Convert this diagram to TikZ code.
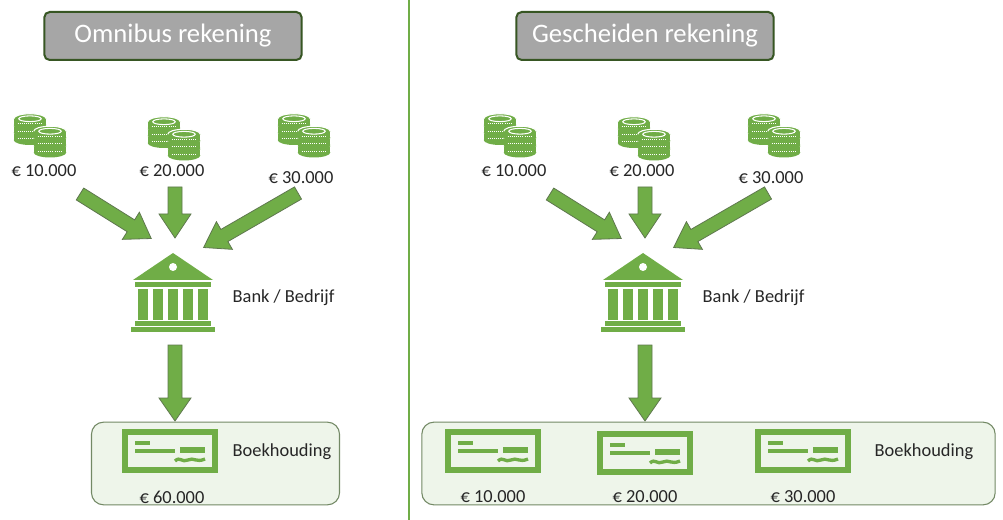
\documentclass[tikz,border=0pt]{standalone}
\usepackage{fontspec}
\setmainfont{Carlito}
\usetikzlibrary{arrows.meta}
\definecolor{gr}{HTML}{70AD47}
\definecolor{dg}{HTML}{375623}
\definecolor{lb}{HTML}{EEF5EA}
\tikzset{
 title/.style={draw=dg,line width=1.5pt,fill=gray!70,rounded corners=4pt,text=white,font=\fontsize{20}{22}\selectfont,minimum width=193pt,minimum height=36pt},
 lab/.style={font=\fontsize{13.8}{15}\selectfont,text=black!85},
 barrow/.style={draw=dg!80,line width=0.6pt,fill=gr},
 acct/.style={draw=dg!70,line width=0.8pt,fill=lb,rounded corners=9pt},
 coins/.pic={
  \begin{scope}[scale=1.25]
  \foreach \sx/\sy in {-8/-6,8/4}{
   \foreach \k in {2,1,0}{
    \fill[gr] (\sx-13,\sy+\k*6-3) rectangle (\sx+13,\sy+\k*6+2);
    \fill[gr] (\sx,\sy+\k*6+2) ellipse (13 and 4);
    \fill[gr] (\sx,\sy+\k*6-3) ellipse (13 and 4);
    \draw[white,line width=0.6pt,densely dotted] (\sx-10,\sy+\k*6+1) -- (\sx+10,\sy+\k*6+1);
    \draw[white,line width=0.8pt] (\sx-13,\sy+\k*6-3) arc (180:360:13 and 4);
   }
   \draw[white,line width=0.8pt] (\sx,\sy-3) ellipse (9 and 2.3);
  }
  \end{scope}
 },
 bank/.pic={
  \fill[gr] (-40,-12) -- (0,-39) -- (40,-12) -- cycle;
  \fill[white] (0,-25) circle (4);
  \fill[gr] (-38,-10) rectangle (38,-5);
  \foreach \c in {-30,-15,0,15,30}{\fill[gr] (\c-5,-3) rectangle (\c+5,28);}
  \fill[gr] (-38,29) rectangle (38,34);
  \fill[gr] (-42,35) rectangle (42,40);
 },
 check/.pic={
  \draw[gr,line width=4.5pt] (-45,-19) rectangle (45,19);
  \fill[gr] (-35,-10) rectangle (-20,-6);
  \fill[gr] (-35,-2) rectangle (5,2);
  \fill[gr] (10,-4) rectangle (35,2);
  \draw[gr,line width=2.5pt] (5,10) .. controls (10,5) and (12,12) .. (18,9) .. controls (24,6) and (26,12) .. (35,8);
 }
}
\begin{document}
\begin{tikzpicture}[x=0.75pt,y=-0.75pt]
\useasboundingbox (0,0) rectangle (1003,520);
\fill[white] (0,0) rectangle (1003,520);
\draw[gr,line width=2.2pt] (409,0) -- (409,520);
\node[title] (t1) at (173,36) {Omnibus rekening};
\node[title] (t2) at (645,36) {Gescheiden rekening};
\foreach \s/\o in {L/0,R/470}{
 \pic at (\o+40,130) {coins};
 \pic at (\o+174,133) {coins};
 \pic at (\o+304,130) {coins};
 \node[lab] (a1\s) at (\o+44,171) {€ 10.000};
 \node[lab] (a2\s) at (\o+172,171) {€ 20.000};
 \node[lab] (a3\s) at (\o+301,178) {€ 30.000};
 \pic at (\o+173,292) {bank};
 \node[lab,anchor=west] (bk\s) at (\o+228,298) {Bank / Bedrijf};
 \begin{scope}[shift={(\o,0)}]
 \foreach \x/\y/\ang/\len in {80/194/-32/84,175/187/-90/51,298/193/-150/109}{
  \begin{scope}[shift={(\x,\y)},rotate=\ang]
   \filldraw[barrow] (0,-7) -- (\len-24,-7) -- (\len-24,-16) -- (\len,0) -- (\len-24,16) -- (\len-24,7) -- (0,7) -- cycle;
  \end{scope}}
  \filldraw[barrow] (168,345) -- (182,345) -- (182,398) -- (191,398) -- (175,421) -- (159,398) -- (168,398) -- cycle;
 \end{scope}
}
\node[acct,minimum width=186pt,minimum height=62pt] (accL) at (215.5,463.5) {};
\node[acct,minimum width=430pt,minimum height=62pt] (accR) at (708.5,463.5) {};
\pic at (170,451) {check};
\node[lab,anchor=west] (bhL) at (228,452) {Boekhouding};
\node[lab] (s0) at (172,497) {€ 60.000};
\foreach \x/\t/\y in {493/€ 10.000/451,645/€ 20.000/453,803/€ 30.000/451}{
 \pic at (\x,\y) {check};
 \node[lab] at (\x,497) {\t};
}
\node[lab,anchor=west] (bhR) at (870,452) {Boekhouding};
\end{tikzpicture}
\end{document}
